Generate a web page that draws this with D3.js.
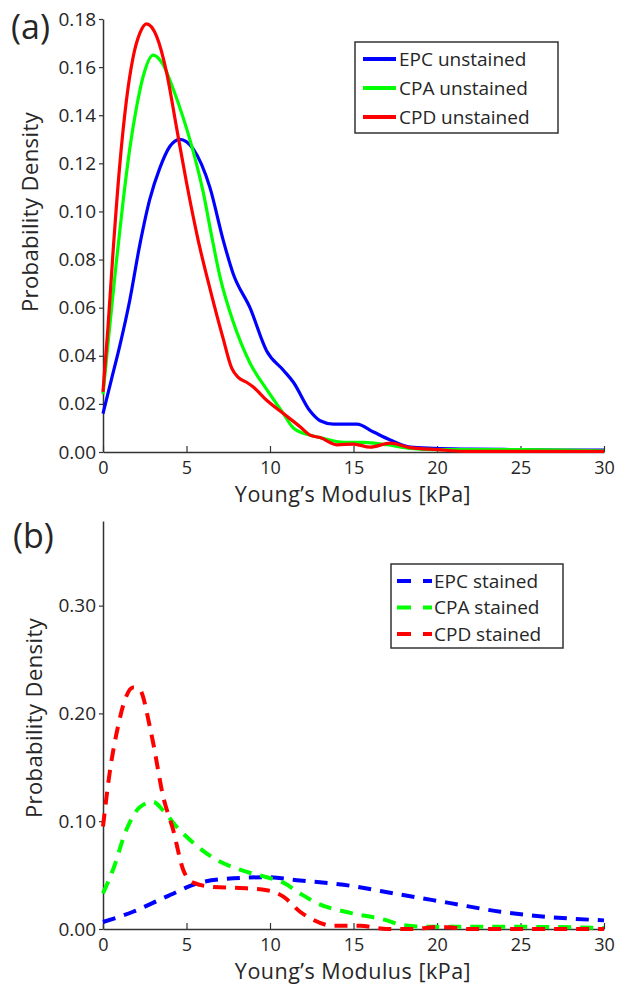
<!DOCTYPE html>
<html>
<head>
<meta charset="utf-8">
<script src="https://cdn.jsdelivr.net/npm/d3@7"></script>
<style>
  html, body { margin: 0; padding: 0; background: #fff; }
  svg { display: block; }
  text { font-family: "Open Sans", "Noto Sans", sans-serif; fill: #262626; }
</style>
</head>
<body>
<svg id="chart" width="617" height="986"></svg>
<script>
// ---------- DATA ----------
// Panel (a): unstained
const epcUnX = [0,0.5,1.0,1.6,2.2,2.8,3.4,4.0,4.6,5.4,6.4,7.2,7.8,8.8,9.8,10.8,11.4,12.4,13.0,13.8,15.2,16.2,17.2,18.4,19.8,22,25,28,30];
const epcUnY = [0.016,0.030,0.044,0.063,0.086,0.105,0.118,0.127,0.130,0.126,0.110,0.088,0.074,0.060,0.042,0.034,0.029,0.017,0.013,0.0116,0.0116,0.0083,0.005,0.002,0.0015,0.0012,0.0010,0.0008,0.0008];
const cpaUnX = [0,0.4,0.8,1.2,1.6,2.0,2.4,3.0,3.6,4.2,4.8,5.4,6.0,6.5,7.0,7.8,8.8,9.8,10.8,11.4,12.4,13.0,14.4,15.6,17.0,18.4,20,25,30];
const cpaUnY = [0.024,0.052,0.079,0.104,0.126,0.143,0.156,0.165,0.161,0.151,0.139,0.125,0.108,0.090,0.073,0.054,0.037,0.026,0.016,0.010,0.007,0.006,0.004,0.004,0.003,0.0015,0.001,0.001,0.0005];
const cpdUnX = [0,0.3,0.6,1.0,1.4,1.8,2.2,2.6,3.2,3.8,4.4,5.0,5.7,6.4,7.2,7.7,8.1,8.6,9.0,9.8,10.8,11.8,12.4,13.0,14.0,15.0,16.0,17.2,18.4,20,21.6,25,30];
const cpdUnY = [0.025,0.052,0.083,0.119,0.146,0.164,0.174,0.178,0.173,0.158,0.135,0.112,0.088,0.068,0.047,0.035,0.031,0.029,0.027,0.0215,0.016,0.0105,0.007,0.006,0.003,0.0033,0.002,0.0037,0.0018,0.001,0.0003,0.0003,0.0003];

// Panel (b): stained
const epcStX = [0,1.8,3.8,5.8,7.8,9.8,11.8,14.4,17.8,20.8,23.8,26.8,30];
const epcStY = [0.0065,0.016,0.030,0.043,0.047,0.048,0.045,0.041,0.032,0.024,0.016,0.011,0.008];
const cpaStX = [0,0.6,1.4,2.2,3.0,3.6,4.4,5.4,6.6,8.2,9.8,10.8,11.8,12.8,14.8,17,17.8,19.4,22,25,30];
const cpaStY = [0.033,0.055,0.092,0.113,0.118,0.110,0.095,0.080,0.066,0.055,0.048,0.043,0.033,0.024,0.015,0.008,0.004,0.002,0.002,0.002,0.001];
const cpdStX = [0,0.4,0.9,1.3,1.8,2.2,2.8,3.0,3.6,4.2,4.8,5.4,6.6,8.2,9.8,10.8,11.8,12.4,13.8,15.4,17,18.5,20.2,22,25,30];
const cpdStY = [0.095,0.145,0.188,0.212,0.224,0.222,0.188,0.173,0.123,0.092,0.055,0.043,0.039,0.038,0.036,0.030,0.016,0.010,0.003,0.003,0.0,0.0,0.002,0.0,0.0,0.0];

const xTicks = [0,5,10,15,20,25,30];
const yTicksA = [0,0.02,0.04,0.06,0.08,0.10,0.12,0.14,0.16,0.18];
const yTicksB = [0,0.10,0.20,0.30];
const seriesNamesA = ["EPC unstained","CPA unstained","CPD unstained"];
const seriesNamesB = ["EPC stained","CPA stained","CPD stained"];
const colors = ["#0000ff","#00ff00","#ff0000"];
const xLabel = "Young\u2019s Modulus [kPa]";
const yLabel = "Probability Density";

// ---------- DRAW ----------
const svg = d3.select("#chart");
const axisColor = "#333";

function panel(cfg) {
  const g = svg.append("g");
  const x = d3.scaleLinear().domain([0,30]).range([103,604]);
  const y = d3.scaleLinear().domain([0,cfg.yMax]).range([cfg.y0, cfg.yTop]);

  // x axis (ticks inward)
  const xa = g.append("g").attr("transform",`translate(0,${cfg.y0})`)
    .call(d3.axisBottom(x).tickValues(xTicks).tickSizeInner(-6).tickSizeOuter(0).tickPadding(9));
  xa.select(".domain").attr("stroke",axisColor).attr("stroke-width",1.5);
  xa.selectAll(".tick line").attr("stroke",axisColor).attr("stroke-width",1.2);
  xa.selectAll("text").attr("font-size",18).attr("fill","#262626")
    .attr("font-family","'Open Sans', sans-serif").attr("dy","0.71em");

  // y axis (ticks outward)
  const ya = g.append("g").attr("transform",`translate(103,0)`)
    .call(d3.axisLeft(y).tickValues(cfg.yTicks).tickFormat(d3.format(".2f")).tickSizeInner(4).tickSizeOuter(0).tickPadding(3));
  ya.select(".domain").attr("stroke",axisColor).attr("stroke-width",1.5);
  ya.selectAll(".tick line").attr("stroke",axisColor).attr("stroke-width",1.2);
  ya.selectAll("text").attr("font-size",19).attr("fill","#262626")
    .attr("font-family","'Open Sans', sans-serif");

  // curves
  const line = d3.line().x(d=>x(d[0])).y(d=>y(d[1])).curve(d3.curveMonotoneX);
  cfg.series.forEach((s,i)=>{
    const pts = s.x.map((v,j)=>[v,s.y[j]]);
    g.append("path").attr("d",line(pts)).attr("fill","none")
      .attr("stroke",colors[i]).attr("stroke-width",cfg.dashed?4:3.2)
      .attr("stroke-dasharray",cfg.dashed?"13,9":null)
      .attr("stroke-linejoin","round");
  });

  // axis labels
  g.append("text").attr("x",353).attr("y",cfg.xLabelY).attr("text-anchor","middle")
    .attr("font-size",21.5).attr("letter-spacing","0.5px").text(xLabel);
  g.append("text").attr("transform",`translate(${cfg.yLabelX},${cfg.yLabelY}) rotate(-90)`)
    .attr("text-anchor","middle").attr("font-size",22).attr("letter-spacing","0.4px").text(yLabel);

  // panel label
  g.append("text").attr("x",cfg.tagX).attr("y",cfg.tagY).attr("font-size",34).text(cfg.tag);

  // legend
  const L = cfg.legend;
  g.append("rect").attr("x",L.x).attr("y",L.y).attr("width",L.w).attr("height",L.h)
    .attr("fill","#fff").attr("stroke","#333").attr("stroke-width",1.5);
  cfg.names.forEach((n,i)=>{
    const ry = L.y + L.row0 + i*L.dy;
    g.append("line").attr("x1",L.x+L.lx0).attr("x2",L.x+L.lx1).attr("y1",ry).attr("y2",ry)
      .attr("stroke",colors[i]).attr("stroke-width",4)
      .attr("stroke-dasharray",cfg.dashed?"14,12":null);
    g.append("text").attr("x",L.x+L.tx).attr("y",ry).attr("dy","0.35em")
      .attr("font-size",L.fs).text(n);
  });
}

panel({
  yMax:0.18, y0:452, yTop:19, yTicks:yTicksA, dashed:false,
  series:[{x:epcUnX,y:epcUnY},{x:cpaUnX,y:cpaUnY},{x:cpdUnX,y:cpdUnY}],
  names:seriesNamesA, xLabelY:502, yLabelX:38, yLabelY:212,
  tag:"(a)", tagX:11, tagY:39,
  legend:{x:355,y:42,w:203,h:91,row0:17,dy:29,lx0:8,lx1:41,tx:44,fs:19}
});

panel({
  yMax:0.3785, y0:929, yTop:521, yTicks:yTicksB, dashed:true,
  series:[{x:epcStX,y:epcStY},{x:cpaStX,y:cpaStY},{x:cpdStX,y:cpdStY}],
  names:seriesNamesB, xLabelY:979, yLabelX:42, yLabelY:718,
  tag:"(b)", tagX:13, tagY:548,
  legend:{x:391,y:564,w:172,h:84,row0:17,dy:26.5,lx0:6,lx1:41,tx:43,fs:19}
});
</script>
</body>
</html>
